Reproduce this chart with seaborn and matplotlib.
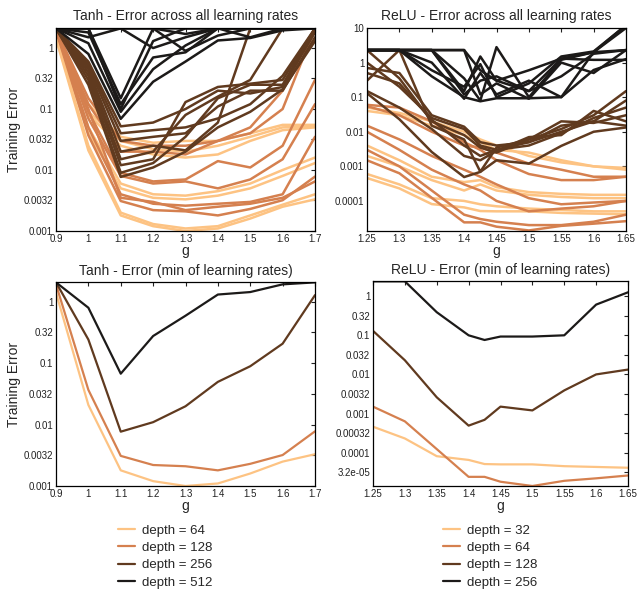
import numpy as np
import pandas as pd
import matplotlib
matplotlib.use("Agg")
import matplotlib.pyplot as plt
from matplotlib.lines import Line2D
from matplotlib.ticker import FixedLocator, FixedFormatter, NullLocator
import seaborn as sns

sns.set_theme(style="white")
plt.rcParams['font.family'] = ['Liberation Sans', 'DejaVu Sans']

# ---------------- data ----------------
tanh_g = [0.9, 1.0, 1.1, 1.2, 1.3, 1.4, 1.5, 1.6, 1.7]
relu_g = [1.25, 1.3, 1.35, 1.4, 1.425, 1.45, 1.5, 1.55, 1.6, 1.65]

tanh_depths = [64, 128, 256, 512]
relu_depths = [32, 64, 128, 256]

# Tanh, all learning rates (one list per learning rate)
tanh_d64 = [
    [1.42, 0.021, 0.0018, 0.0012, 0.001, 0.0011, 0.0016, 0.0025, 0.0033],
    [1.5, 0.025, 0.002, 0.0013, 0.0011, 0.0012, 0.0018, 0.0027, 0.004],
    [1.6, 0.04, 0.005, 0.0035, 0.0033, 0.0038, 0.005, 0.008, 0.013],
    [1.7, 0.05, 0.006, 0.004, 0.0038, 0.0045, 0.006, 0.01, 0.016],
    [1.8, 0.08, 0.025, 0.018, 0.016, 0.018, 0.03, 0.045, 0.05],
    [1.8, 0.09, 0.03, 0.022, 0.02, 0.025, 0.035, 0.05, 0.052],
    [1.9, 0.12, 0.035, 0.028, 0.03, 0.03, 0.04, 0.055, 0.055],
]
tanh_d128 = [
    [1.95, 0.037, 0.0031, 0.0022, 0.0021, 0.0018, 0.0023, 0.0032, 0.0078],
    [2.0, 0.05, 0.004, 0.0028, 0.0026, 0.0028, 0.003, 0.004, 0.035],
    [2.0, 0.07, 0.008, 0.006, 0.0065, 0.005, 0.007, 0.015, 0.12],
    [2.0, 0.09, 0.009, 0.0065, 0.007, 0.014, 0.011, 0.025, 0.3],
    [2.0, 0.12, 0.02, 0.02, 0.018, 0.03, 0.04, 0.1, 2.1],
    [2.0, 0.15, 0.03, 0.025, 0.025, 0.03, 0.05, 0.2, 2.1],
    [1.9, 0.1, 0.0035, 0.003, 0.0022, 0.0025, 0.0028, 0.0035, 0.0065],
]
tanh_d256 = [
    [2.1, 0.25, 0.0077, 0.011, 0.02, 0.05, 0.09, 0.21, 1.3],
    [2.1, 0.3, 0.009, 0.013, 0.035, 0.15, 0.25, 0.25, 2.1],
    [2.1, 0.35, 0.012, 0.015, 0.13, 0.23, 0.26, 0.3, 2.1],
    [2.1, 0.4, 0.015, 0.02, 0.08, 0.16, 0.3, 2.1, 2.1],
    [2.1, 0.45, 0.02, 0.025, 0.021, 0.06, 2.1, 2.1, 2.1],
    [2.1, 0.5, 0.03, 0.035, 0.04, 0.11, 0.2, 0.2, 1.5],
    [2.1, 0.55, 0.04, 0.045, 0.05, 0.07, 0.12, 0.35, 2.1],
    [2.1, 0.6, 0.052, 0.06, 0.1, 0.2, 0.18, 0.23, 1.8],
]
tanh_d512 = [
    [2.1, 0.8, 0.069, 0.28, 0.6, 1.33, 1.46, 1.95, 2.1],
    [2.1, 1.2, 0.09, 0.45, 1.1, 2.1, 2.1, 2.1, 2.1],
    [2.1, 1.8, 0.12, 0.7, 0.85, 2.1, 2.1, 2.1, 2.1],
    [2.1, 2.1, 0.1, 1.3, 2.1, 2.1, 2.1, 2.1, 2.1],
    [2.1, 2.1, 0.15, 2.1, 0.9, 1.6, 2.1, 2.1, 2.1],
    [2.1, 2.1, 2.1, 2.1, 2.1, 2.1, 1.5, 2.1, 2.1],
    [2.1, 2.1, 2.1, 1.0, 1.5, 2.1, 2.1, 2.1, 2.1],
    [2.1, 1.5, 2.1, 2.1, 1.7, 2.1, 2.1, 2.1, 2.1],
]

# ReLU, all learning rates
relu_d32 = [
    [0.00046, 0.00023, 8.1e-5, 6.5e-5, 5.1e-5, 5e-5, 5e-5, 4.5e-5, 4.3e-5, 4.1e-5],
    [0.05, 0.035, 0.02, 0.01, 0.006, 0.004, 0.002, 0.0013, 0.001, 0.0008],
    [0.04, 0.03, 0.015, 0.008, 0.005, 0.003, 0.0025, 0.0015, 0.001, 0.0009],
    [0.004, 0.0015, 0.0005, 0.00035, 0.0004, 0.00025, 0.00018, 0.00016, 0.00015, 0.00015],
    [0.002, 0.001, 0.0004, 0.0002, 0.0003, 0.0002, 0.00015, 0.00013, 0.00012, 0.00012],
    [0.0006, 0.0003, 0.00012, 0.0001, 8e-5, 7e-5, 6e-5, 5.5e-5, 5e-5, 5e-5],
]
relu_d64 = [
    [0.0015, 0.00063, 0.000123, 2.4e-5, 2.4e-5, 1.8e-5, 1.4e-5, 1.9e-5, 2.2e-5, 2.6e-5],
    [0.06, 0.05, 0.02, 0.005, 0.003, 0.0015, 0.0006, 0.0004, 0.0004, 0.0005],
    [0.015, 0.006, 0.002, 0.0008, 0.0005, 0.0003, 0.00012, 8e-5, 9e-5, 0.0001],
    [0.01, 0.003, 0.0008, 0.0003, 0.0002, 0.0001, 5e-5, 6e-5, 7e-5, 0.0001],
    [0.003, 0.001, 0.0002, 4e-5, 3e-5, 2.5e-5, 2e-5, 2e-5, 2.5e-5, 4e-5],
    [0.055, 0.03, 0.01, 0.004, 0.0035, 0.0025, 0.0012, 0.0008, 0.0005, 0.0005],
]
relu_d128 = [
    [0.13, 0.023, 0.0026, 0.00049, 0.00069, 0.0015, 0.0012, 0.0039, 0.01, 0.0133],
    [2.3, 0.35, 0.02, 0.008, 0.0035, 0.0025, 0.006, 0.012, 0.03, 0.15],
    [1.0, 0.2, 0.025, 0.012, 0.004, 0.003, 0.005, 0.01, 0.02, 0.08],
    [0.5, 0.25, 0.022, 0.004, 0.002, 0.003, 0.004, 0.009, 0.025, 0.05],
    [0.3, 2.3, 0.015, 0.006, 0.0007, 0.0035, 0.006, 0.02, 0.018, 0.03],
    [0.7, 0.5, 0.03, 0.014, 0.005, 0.004, 0.005, 0.015, 0.02, 0.015],
    [0.15, 0.05, 0.012, 0.002, 0.0015, 0.0028, 0.007, 0.008, 0.04, 0.02],
]
relu_d256 = [
    [2.3, 2.3, 0.4, 0.1, 0.076, 0.093, 0.093, 0.1, 0.61, 1.26],
    [2.3, 2.3, 2.3, 0.15, 1.5, 0.3, 0.6, 1.3, 2.0, 10],
    [2.3, 2.3, 2.3, 0.35, 0.08, 2.8, 0.1, 1.2, 2.0, 12],
    [2.3, 2.3, 1.0, 0.09, 0.5, 0.12, 0.3, 0.1, 2.0, 2.3],
    [2.3, 2.3, 2.3, 2.3, 0.12, 0.25, 0.09, 1.0, 0.5, 2.3],
    [2.3, 2.3, 0.6, 0.2, 0.9, 0.1, 0.25, 1.5, 2.1, 12],
    [2.3, 2.3, 2.3, 0.12, 0.3, 0.4, 0.15, 1.3, 1.2, 1.2],
    [2.3, 2.3, 2.3, 2.3, 0.6, 0.3, 0.15, 0.4, 1.8, 2.3],
]

# minimum over learning rates
tanh_min_64 = [1.42, 0.021, 0.0018, 0.0012, 0.001, 0.0011, 0.0016, 0.0025, 0.0033]
tanh_min_128 = [1.95, 0.037, 0.0031, 0.0022, 0.0021, 0.0018, 0.0023, 0.0032, 0.0078]
tanh_min_256 = [2.1, 0.245, 0.0077, 0.011, 0.02, 0.05, 0.09, 0.21, 1.3]
tanh_min_512 = [2.1, 0.81, 0.068, 0.28, 0.6, 1.33, 1.46, 1.95, 2.1]

relu_min_32 = [0.00046, 0.00023, 8.1e-5, 6.5e-5, 5.1e-5, 5e-5, 5e-5, 4.5e-5, 4.3e-5, 4.1e-5]
relu_min_64 = [0.0015, 0.00063, 0.000123, 2.4e-5, 2.4e-5, 1.8e-5, 1.4e-5, 1.9e-5, 2.2e-5, 2.6e-5]
relu_min_128 = [0.13, 0.023, 0.0026, 0.00049, 0.00069, 0.0015, 0.0012, 0.0039, 0.01, 0.0133]
relu_min_256 = [2.4, 2.4, 0.39, 0.1, 0.076, 0.093, 0.093, 0.1, 0.61, 1.26]

tanh_yticks = [0.001, 0.0032, 0.01, 0.032, 0.1, 0.32, 1]
tanh_yticklabels = ["0.001", "0.0032", "0.01", "0.032", "0.1", "0.32", "1"]
relu_all_yticks = [0.0001, 0.001, 0.01, 0.1, 1, 10]
relu_all_yticklabels = ["0.0001", "0.001", "0.01", "0.1", "1", "10"]
relu_min_yticks = [3.2e-5, 0.0001, 0.00032, 0.001, 0.0032, 0.01, 0.032, 0.1, 0.32, 1]
relu_min_yticklabels = ["3.2e-05", "0.0001", "0.00032", "0.001", "0.0032", "0.01",
                        "0.032", "0.1", "0.32", "1"]
tanh_xticklabels = ["0.9", "1", "1.1", "1.2", "1.3", "1.4", "1.5", "1.6", "1.7"]
relu_xticks = [1.25, 1.3, 1.35, 1.4, 1.45, 1.5, 1.55, 1.6, 1.65]
relu_xticklabels = ["1.25", "1.3", "1.35", "1.4", "1.45", "1.5", "1.55", "1.6", "1.65"]

# ---------------- helpers ----------------
colors = ["#fdc383", "#d5804f", "#603a1f", "#1c1a19"]


def long_all(g, depths, groups):
    rows = []
    for d, grp in zip(depths, groups):
        for k, vals in enumerate(grp):
            for x, v in zip(g, vals):
                rows.append((d, k, x, v))
    return pd.DataFrame(rows, columns=["depth", "lr", "g", "err"])


def long_min(g, depths, mins):
    rows = []
    for d, vals in zip(depths, mins):
        for x, v in zip(g, vals):
            rows.append((d, 0, x, v))
    return pd.DataFrame(rows, columns=["depth", "lr", "g", "err"])


def style_axes(ax, xlim, xticks, xlabels, ylim, yticks, ylabels):
    ax.set_yscale("log")
    ax.set_xlim(*xlim)
    ax.set_ylim(*ylim)
    ax.xaxis.set_major_locator(FixedLocator(xticks))
    ax.xaxis.set_major_formatter(FixedFormatter(xlabels))
    ax.yaxis.set_major_locator(FixedLocator(yticks))
    ax.yaxis.set_major_formatter(FixedFormatter(ylabels))
    ax.yaxis.set_minor_locator(NullLocator())
    ax.xaxis.set_minor_locator(NullLocator())
    ax.tick_params(direction="in", length=3, width=0.8, labelsize=7,
                   top=True, right=True, pad=2, colors="#222222")
    for s in ax.spines.values():
        s.set_visible(True)
        s.set_color("black")
        s.set_linewidth(0.9)
    ax.set_xlabel("g", fontsize=10, labelpad=0)
    ax.set_ylabel("")


fig = plt.figure(figsize=(6.4, 5.9), dpi=100)
W, H = 640.0, 590.0


def add_ax(x0, y0, x1, y1):
    return fig.add_axes([x0 / W, 1 - y1 / H, (x1 - x0) / W, (y1 - y0) / H])


ax1 = add_ax(56, 28, 315, 231)
ax2 = add_ax(367, 28, 626, 231)
ax3 = add_ax(56, 282, 315, 486)
ax4 = add_ax(373, 281, 628, 486)

pal_t = dict(zip(tanh_depths, colors))
pal_r = dict(zip(relu_depths, colors))

df1 = long_all(tanh_g, tanh_depths, [tanh_d64, tanh_d128, tanh_d256, tanh_d512])
sns.lineplot(data=df1, x="g", y="err", hue="depth", units="lr", estimator=None,
             palette=pal_t, linewidth=1.8, legend=False, ax=ax1)
df2 = long_all(relu_g, relu_depths, [relu_d32, relu_d64, relu_d128, relu_d256])
sns.lineplot(data=df2, x="g", y="err", hue="depth", units="lr", estimator=None,
             palette=pal_r, linewidth=1.8, legend=False, ax=ax2)
df3 = long_min(tanh_g, tanh_depths, [tanh_min_64, tanh_min_128, tanh_min_256, tanh_min_512])
sns.lineplot(data=df3, x="g", y="err", hue="depth", units="lr", estimator=None,
             palette=pal_t, linewidth=1.6, legend=False, ax=ax3)
df4 = long_min(relu_g, relu_depths, [relu_min_32, relu_min_64, relu_min_128, relu_min_256])
sns.lineplot(data=df4, x="g", y="err", hue="depth", units="lr", estimator=None,
             palette=pal_r, linewidth=1.6, legend=False, ax=ax4)

style_axes(ax1, (0.9, 1.7), tanh_g, tanh_xticklabels, (0.001, 2.13), tanh_yticks, tanh_yticklabels)
style_axes(ax2, (1.25, 1.65), relu_xticks, relu_xticklabels, (1.35e-5, 10), relu_all_yticks, relu_all_yticklabels)
style_axes(ax3, (0.9, 1.7), tanh_g, tanh_xticklabels, (0.001, 2.13), tanh_yticks, tanh_yticklabels)
style_axes(ax4, (1.25, 1.65), relu_xticks, relu_xticklabels, (1.4e-5, 2.45), relu_min_yticks, relu_min_yticklabels)

ax1.set_title("Tanh - Error across all learning rates", fontsize=10, pad=6)
ax2.set_title("ReLU - Error across all learning rates", fontsize=10, pad=6)
ax3.set_title("Tanh - Error (min of learning rates)", fontsize=10, pad=5)
ax4.set_title("ReLU - Error (min of learning rates)", fontsize=10, pad=5)
ax1.set_ylabel("Training Error", fontsize=10, labelpad=2)
ax3.set_ylabel("Training Error", fontsize=10, labelpad=2)

h1 = [Line2D([], [], color=c, lw=1.6) for c in colors]
fig.legend(h1, ["depth = %d" % d for d in tanh_depths], loc="upper left",
           bbox_to_anchor=(111 / W, 1 - 518 / H), frameon=False, fontsize=9.5,
           handlelength=1.3, handletextpad=0.55, labelspacing=0.38, borderpad=0)
h2 = [Line2D([], [], color=c, lw=1.6) for c in colors]
fig.legend(h2, ["depth = %d" % d for d in relu_depths], loc="upper left",
           bbox_to_anchor=(436 / W, 1 - 518 / H), frameon=False, fontsize=9.5,
           handlelength=1.3, handletextpad=0.55, labelspacing=0.38, borderpad=0)

fig.savefig("out.png", dpi=100)
